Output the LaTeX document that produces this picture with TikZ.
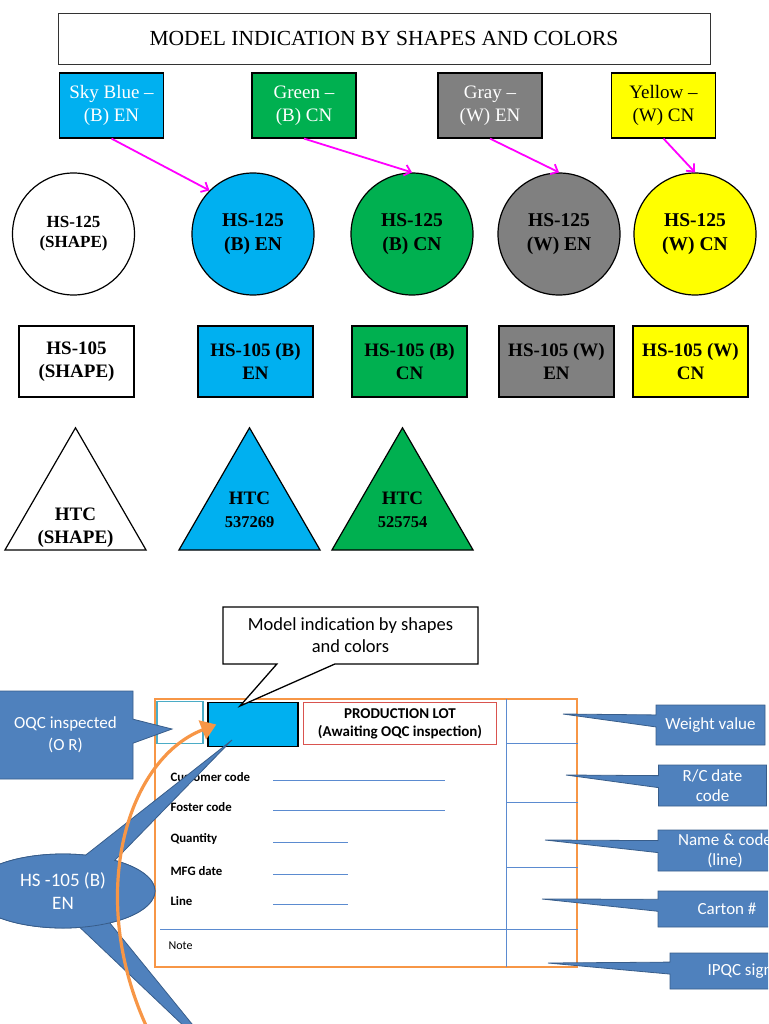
\documentclass[tikz,border=0pt]{standalone}
\usepackage{fontspec}
\setmainfont{Liberation Serif}
\newfontfamily\calibri{Carlito}
\usetikzlibrary{shapes.geometric,shapes.callouts,arrows.meta,positioning}

\definecolor{skyblue}{HTML}{00B0F0}
\definecolor{mgreen}{HTML}{00B050}
\definecolor{mgray}{HTML}{808080}
\definecolor{myellow}{HTML}{FFFF00}
\definecolor{mmagenta}{HTML}{FF00FF}
\definecolor{callfill}{HTML}{4F81BD}
\definecolor{callline}{HTML}{385D8A}
\definecolor{formorange}{HTML}{F79646}
\definecolor{formline}{HTML}{5B8BD0}
\definecolor{tealline}{HTML}{4BACC6}
\definecolor{lotred}{HTML}{D9534F}

\begin{document}
\begin{tikzpicture}[x=1pt, y=-1pt,
    colorbox/.style={rectangle, draw=black, line width=1.2pt, minimum width=104pt,
                     minimum height=65pt, align=center, text=white, font=\fontsize{19}{23}\selectfont},
    model/.style={circle, draw=black, line width=1.2pt, minimum size=122pt, inner sep=0pt,
                  align=center, font=\fontsize{19.5}{24}\selectfont\bfseries},
    modelbox/.style={rectangle, draw=black, line width=1.2pt, minimum width=115pt,
                     minimum height=71pt, align=center, font=\fontsize{19}{23}\selectfont\bfseries},
    tri/.style={regular polygon, regular polygon sides=3, draw=black, line width=1.2pt,
                minimum size=163pt, inner sep=0pt},
    tritext/.style={align=center, font=\fontsize{19}{23}\selectfont\bfseries},
    link/.style={-{Straight Barb[length=6pt,width=11pt]}, mmagenta, line width=1.8pt},
    bluecall/.style={rectangle callout, fill=callfill, draw=callline, line width=0.8pt, text=white,
                     align=center, callout pointer width=12pt, font=\calibri\fontsize{17}{20}\selectfont},
    bluebubble/.style={ellipse callout, fill=callfill, draw=callline, line width=0.8pt, text=white,
                       minimum width=184pt, minimum height=74pt, inner sep=0pt, align=center,
                       callout pointer arc=20, font=\calibri\fontsize{19}{23}\selectfont},
    field/.style={anchor=west, font=\calibri\bfseries\fontsize{12.8}{14}\selectfont},
    fieldline/.style={formline, line width=0.8pt},
    cellrule/.style={formline, line width=0.7pt}
]
    \useasboundingbox (0,0) rectangle (768,1024);
    \clip (0,0) rectangle (768,1024);

    % Title
    \node[draw=black!80, line width=0.8pt, minimum width=652pt, minimum height=51pt,
          font=\fontsize{21.5}{24}\selectfont] (title) at (384,38.5) {MODEL INDICATION BY SHAPES AND COLORS};

    % Colour keys
    \node[colorbox, fill=skyblue] (keyB) at (111.5,105.5) {Sky Blue –\\(B) EN};
    \node[colorbox, fill=mgreen] (keyG) at (304,105.5) {Green –\\(B) CN};
    \node[colorbox, fill=mgray] (keyW) at (490,105.5) {Gray –\\(W) EN};
    \node[colorbox, fill=myellow, text=black] (keyY) at (663.5,105.5) {Yellow –\\(W) CN};

    % HS-125 circles
    \node[model, font=\fontsize{17}{20}\selectfont\bfseries] (hsS) at (73.5,234) {HS-125\\(SHAPE)};
    \node[model, fill=skyblue] (hsB) at (253,234) {HS-125\\(B) EN};
    \node[model, fill=mgreen] (hsG) at (412,234) {HS-125\\(B) CN};
    \node[model, fill=mgray] (hsW) at (559,234) {HS-125\\(W) EN};
    \node[model, fill=myellow] (hsY) at (695,234) {HS-125\\(W) CN};

    % Key to circle arrows
    \draw[link] (keyB.south) -- (hsB.135);
    \draw[link] (keyG.south) -- (hsG.north);
    \draw[link] (keyW.south) -- (hsW.north);
    \draw[link] (keyY.south) -- (hsY.north);

    % HS-105 boxes
    \node[modelbox] (boxS) at (76.5,361.5) {HS-105\\(SHAPE)};
    \node[modelbox, fill=skyblue] (boxB) at (255.5,361.5) {HS-105 (B)\\EN};
    \node[modelbox, fill=mgreen] (boxG) at (409.5,361.5) {HS-105 (B)\\CN};
    \node[modelbox, fill=mgray] (boxW) at (556.5,361.5) {HS-105 (W)\\EN};
    \node[modelbox, fill=myellow] (boxY) at (690.5,361.5) {HS-105 (W)\\CN};

    % HTC triangles
    \node[tri] (triS) at (75.5,509.3) {};
    \node[tri, fill=skyblue] (triB) at (249.5,509.3) {};
    \node[tri, fill=mgreen] (triG) at (402.5,509.3) {};
    \node[tritext] (triSlabel) at (75.5,528) {HTC\\(SHAPE)};
    \node[tritext] (triBlabel) at (249.5,510) {HTC\\\fontsize{16.5}{19}\selectfont 537269};
    \node[tritext] (triGlabel) at (402.5,510) {HTC\\\fontsize{16.5}{19}\selectfont 525754};

    % Production lot form
    \node[draw=formorange, line width=1.3pt, minimum width=422pt, minimum height=268pt,
          inner sep=0pt] (form) at (366,833) {};
    \draw[cellrule] (506,699) -- (506,967);
    \foreach \y in {743,802,867}
        \draw[cellrule] (506,\y) -- (578,\y);
    \draw[cellrule] (160,929) -- (578,929);

    \node[draw=tealline, line width=1.2pt, minimum width=46pt, minimum height=42pt,
          inner sep=0pt] (oqcbox) at (180,722.5) {};
    \node[draw=black, fill=skyblue, line width=1.4pt, minimum width=90pt, minimum height=44pt,
          inner sep=0pt] (modelmark) at (253,724.5) {};
    \node[draw=lotred, line width=0.8pt, minimum width=193pt, minimum height=42pt, align=center,
          font=\calibri\bfseries\fontsize{15}{18}\selectfont] (lot) at (400,723.5)
          {PRODUCTION LOT\\(Awaiting OQC inspection)};

    \foreach \lbl/\y/\len in {Customer code/777/172, Foster code/807/172, Quantity/839/75,
                              MFG date/871/75, Line/901/75} {
        \node[field] (fld\y) at (167,\y) {\lbl};
        \draw[fieldline] (273,{\y+3}) -- ++(\len,0);
    }
    \node[anchor=west, font=\calibri\fontsize{12}{14}\selectfont] (note) at (165,946) {Note};

    % Callouts on the right
    \node[bluecall, minimum width=109pt, minimum height=40pt,
          callout absolute pointer={(563,714)}] (weight) at (710.5,725) {Weight value};
    \node[bluecall, minimum width=108pt, minimum height=41pt,
          callout absolute pointer={(566,775)}] (rcdate) at (712.5,785.5) {R/C date\\code};
    \node[bluecall, minimum width=134pt, minimum height=41pt,
          callout absolute pointer={(545,840)}] (namecode) at (725,850.5) {Name \& code\\(line)};
    \node[bluecall, minimum width=138pt, minimum height=36pt,
          callout absolute pointer={(542,899)}] (carton) at (727,909) {Carton \#};
    \node[bluecall, minimum width=140pt, minimum height=36pt,
          callout absolute pointer={(548,963)}] (ipqc) at (740,971) {IPQC sign};

    % Callouts on the left
    \node[bluecall, minimum width=135pt, minimum height=88pt, callout pointer width=24pt,
          font=\calibri\fontsize{17}{22}\selectfont,
          callout absolute pointer={(172,729)}] (oqc) at (65.5,735) {OQC inspected\\(O R)};
    \node[bluebubble, callout absolute pointer={(227,1067)}] (bubbleLow) at (63,891) {};
    \node[bluebubble, callout absolute pointer={(232,740)}] (bubble) at (63,891) {HS -105 (B)\\EN};

    % Top callout
    \node[rectangle callout, draw=black, fill=white, line width=1.3pt, minimum width=255pt,
          minimum height=57pt, align=center, callout pointer width=58pt,
          callout absolute pointer={(240,706)}, font=\calibri\fontsize{18.5}{22}\selectfont]
          (modelcall) at (350.5,635.5) {Model indication by shapes\\and colors};

    % Orange curved arrow
    \coordinate (arcStart) at (150,1034);
    \draw[formorange, line width=3.2pt, -{Triangle[length=15pt,width=20pt]}]
        (arcStart) .. controls (85,900) and (125,760) .. ([xshift=9pt]modelmark.west);

\end{tikzpicture}
\end{document}
